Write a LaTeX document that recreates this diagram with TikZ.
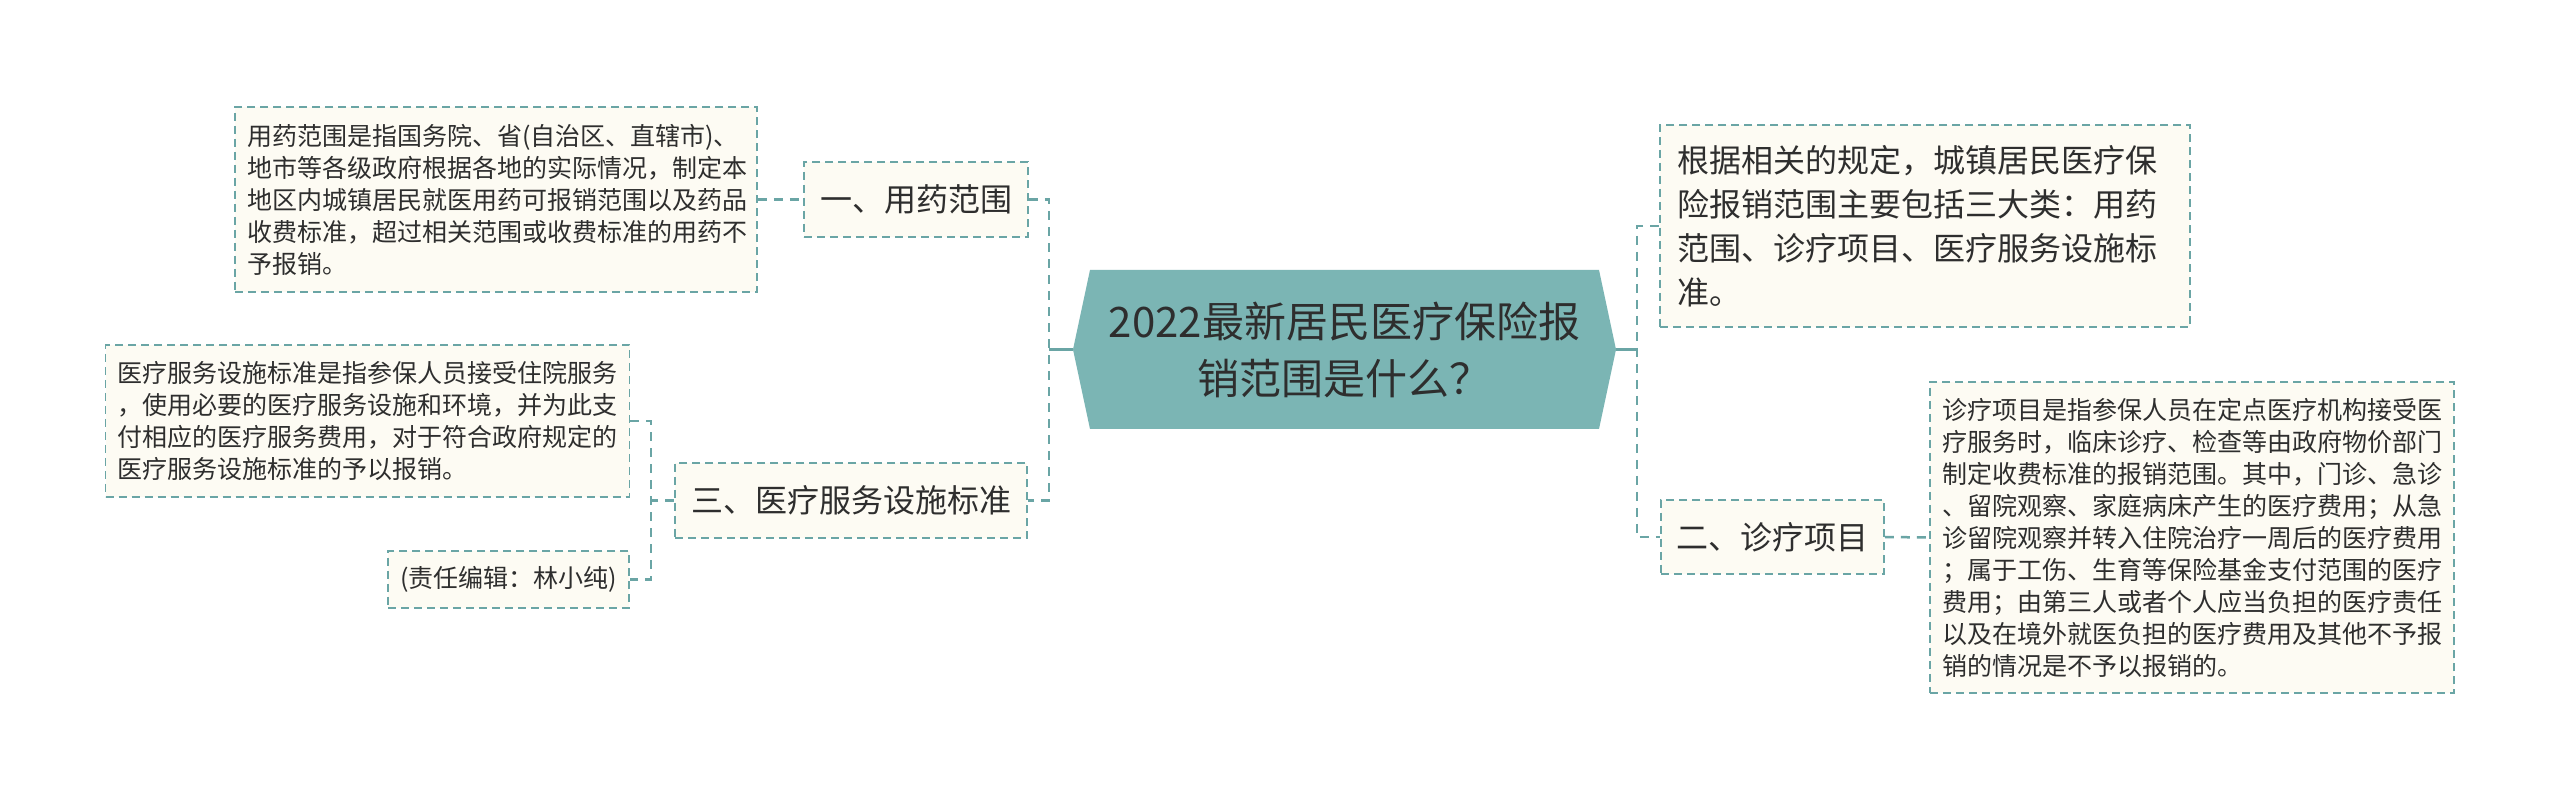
\documentclass[tikz,border=0pt]{standalone}
\usepackage{fontspec}
\newfontfamily\cjk{Noto Sans CJK SC}
\definecolor{lineteal}{HTML}{6AA5A5}
\definecolor{centralfill}{HTML}{7BB5B4}
\definecolor{boxfill}{HTML}{FDFBF3}
\definecolor{txtcol}{HTML}{2E2E2E}
\tikzset{
  conn/.style={draw=lineteal, line width=1.25pt, dash pattern=on 4.5pt off 3.5pt},
  stub/.style={draw=lineteal, line width=1.25pt},
  box/.style={draw=lineteal, line width=0.9pt, dash pattern=on 4pt off 2.5pt, fill=boxfill, text=txtcol, inner sep=0pt},
  leaf/.style={box, font=\cjk\fontsize{12.5pt}{16pt}\selectfont, align=left, text width=250pt, inner xsep=6pt},
  midbox/.style={box, font=\cjk\fontsize{16pt}{22pt}\selectfont, align=center},
}
\begin{document}
\begin{tikzpicture}[x=0.5pt,y=-0.5pt]
\fill[white] (0,0) rectangle (2560,801);
\useasboundingbox (0,0) rectangle (2560,801);
% central hexagon
\fill[centralfill] (1073,349.5) -- (1090,270) -- (1599,270) -- (1616,349.5) -- (1599,429) -- (1090,429) -- cycle;
\node[minimum width=271.5pt, minimum height=79.5pt, inner sep=0pt, text=txtcol, align=center,
      font=\cjk\fontsize{21pt}{28.5pt}\selectfont] (c) at (1344.5,349.5) {2022最新居民医疗保险报\\销范围是什么？};
% left side
\node[midbox, minimum width=112pt, minimum height=37.5pt] (n1) at (916,199.5) {一、用药范围};
\node[leaf, minimum height=92.5pt, text width=249pt] (L1) at (496,199.5) {用药范围是指国务院、省(自治区、直辖市)、\\地市等各级政府根据各地的实际情况，制定本\\地区内城镇居民就医用药可报销范围以及药品\\收费标准，超过相关范围或收费标准的用药不\\予报销。};
\node[midbox, minimum width=176pt, minimum height=37.5pt] (n3) at (851,500.5) {三、医疗服务设施标准};
\node[leaf, minimum height=76pt, text width=250pt] (L3) at (367.5,421) {医疗服务设施标准是指参保人员接受住院服务\\，使用必要的医疗服务设施和环境，并为此支\\付相应的医疗服务费用，对于符合政府规定的\\医疗服务设施标准的予以报销。};
\node[box, font=\cjk\fontsize{12.5pt}{16pt}\selectfont, minimum width=120.5pt, minimum height=28.5pt] (ed) at (508.5,579.5) {(责任编辑：林小纯)};
% right side
\node[box, font=\cjk\fontsize{16pt}{22pt}\selectfont, align=left, text width=248pt, inner xsep=8.5pt, minimum height=101pt] (R1) at (1925,226) {根据相关的规定，城镇居民医疗保\\险报销范围主要包括三大类：用药\\范围、诊疗项目、医疗服务设施标\\准。};
\node[midbox, minimum width=111.5pt, minimum height=37pt] (n2) at (1772.5,537) {二、诊疗项目};
\node[leaf, minimum height=155.5pt, text width=250pt] (L2) at (2192,537.5) {诊疗项目是指参保人员在定点医疗机构接受医\\疗服务时，临床诊疗、检查等由政府物价部门\\制定收费标准的报销范围。其中，门诊、急诊\\、留院观察、家庭病床产生的医疗费用；从急\\诊留院观察并转入住院治疗一周后的医疗费用\\；属于工伤、生育等保险基金支付范围的医疗\\费用；由第三人或者个人应当负担的医疗责任\\以及在境外就医负担的医疗费用及其他不予报\\销的情况是不予以报销的。};
% spine coordinates
\coordinate (spL) at (1049,349.5);
\coordinate (spR) at (1637,349.5);
\coordinate (sub) at (651,500.5);
% connectors
\draw[stub] (c.west) -- (spL);
\draw[conn] (n1.east) -- (n1.east -| spL) |- (n3.east);
\draw[conn] (L1.east) -- (n1.west);
\draw[conn] (n3.west) -- (sub);
\draw[conn] (L3.east) -- (L3.east -| sub) |- (ed.east);
\draw[stub] (c.east) -- (spR);
\draw[conn] (R1.west) -- (R1.west -| spR) |- (n2.west);
\draw[conn] (n2.east) -- (L2.west);
\end{tikzpicture}
\end{document}
